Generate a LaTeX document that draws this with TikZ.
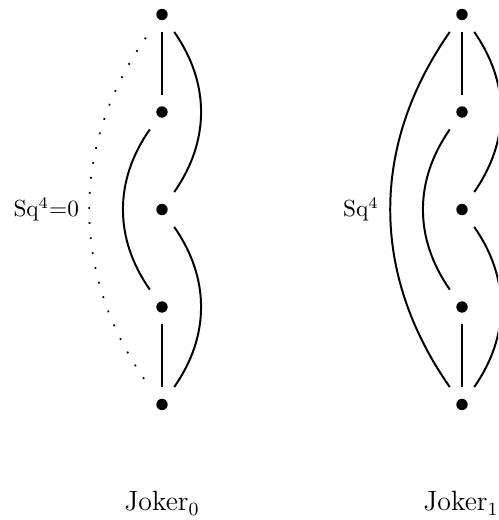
\documentclass[tikz,border=0pt]{standalone}
\begin{document}
\begin{tikzpicture}[x=0.43pt,y=0.43pt,
  dotnode/.style={rectangle, inner sep=0pt, minimum width=11.2pt, minimum height=14.6pt,
    path picture={\fill (path picture bounding box.center) circle (2.45pt);}},
  link/.style={line width=0.85pt},
  dotlink/.style={line width=0.75pt, dash pattern=on 0.75pt off 5.75pt, shorten <=3pt, shorten >=3pt},
  lab/.style={midway, left=4.5pt, inner sep=0pt},
  joker/.style={anchor=base, font=\large},
  bend angle=35]
\clip (0,0) rectangle (498,520);
\foreach \c/\x in {a/162, b/462} {
  \node[dotnode] (\c0) at (\x,505.5) {};
  \node[dotnode] (\c1) at (\x,408) {};
  \node[dotnode] (\c2) at (\x,310.5) {};
  \node[dotnode] (\c3) at (\x,213) {};
  \node[dotnode] (\c4) at (\x,115.5) {};
  \draw[link] (\c0) -- (\c1);
  \draw[link] (\c3) -- (\c4);
  \draw[link] (\c0) to[bend left] (\c2);
  \draw[link] (\c2) to[bend left] (\c4);
  \draw[link] (\c1) to[bend right] (\c3);
}
\draw[dotlink] (a0) to[bend right] node[lab] {Sq$^4$=0} (a4);
\draw[link] (b0) to[bend right] node[lab] {Sq$^4$} (b4);
\node[joker] (j0) at (162,9) {Joker$_0$};
\node[joker] (j1) at (461,9) {Joker$_1$};
\end{tikzpicture}
\end{document}
